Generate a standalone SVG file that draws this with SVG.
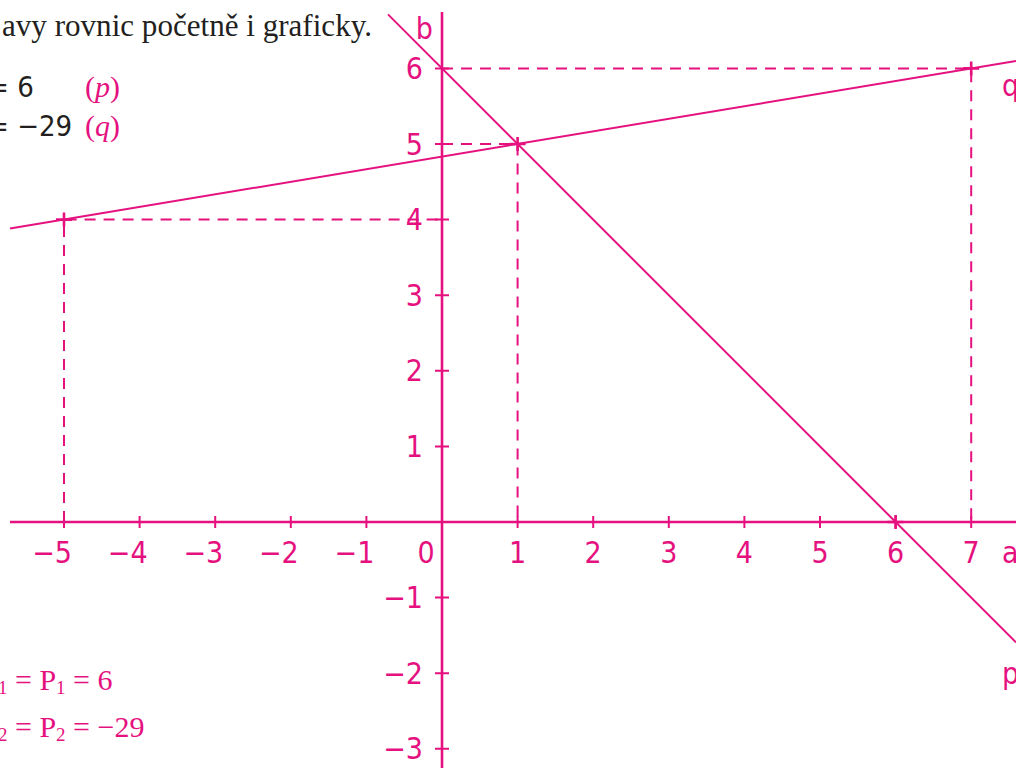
<svg xmlns="http://www.w3.org/2000/svg" width="1016" height="768" viewBox="0 0 1016 768">
<style>
.ax{stroke:#e5117f;stroke-width:2.6;fill:none}
.ln{stroke:#e5117f;stroke-width:2;fill:none}
.ds{stroke:#e5117f;stroke-width:2;fill:none;stroke-dasharray:11 8}
.tk{stroke:#e5117f;stroke-width:2;fill:none}
.cr{stroke:#e5117f;stroke-width:2.6;fill:none}
.lb{font-family:"Liberation Sans Narrow","DejaVu Sans Condensed","Liberation Sans",sans-serif;font-stretch:condensed;font-size:30px;fill:#e5117f}
.tx{font-family:"Liberation Sans Narrow","DejaVu Sans Condensed","Liberation Sans",sans-serif;font-stretch:condensed;font-size:29px;fill:#231f20}
.sr{font-family:"Liberation Serif","Times New Roman",serif;font-size:31px;fill:#231f20}
.sm{font-family:"Liberation Serif","Times New Roman",serif;font-size:30px;fill:#e5117f}
</style>
<rect width="1016" height="768" fill="#ffffff"/>
<g id="header">
<text class="sr" x="2" y="36" textLength="370" lengthAdjust="spacingAndGlyphs">avy rovnic početně i graficky.</text>
<text class="tx" x="-13" y="97">= 6</text>
<text class="sm" x="85" y="97">(<tspan font-style="italic">p</tspan>)</text>
<text class="tx" x="-13" y="136">= −29</text>
<text class="sm" x="85" y="136">(<tspan font-style="italic">q</tspan>)</text>
</g>
<g id="results">
<text class="sm" x="-2" y="690"><tspan font-size="19" dy="4">1</tspan><tspan dy="-4"> = P</tspan><tspan font-size="19" dy="4">1</tspan><tspan dy="-4"> = 6</tspan></text>
<text class="sm" x="-2" y="737"><tspan font-size="19" dy="4">2</tspan><tspan dy="-4"> = P</tspan><tspan font-size="19" dy="4">2</tspan><tspan dy="-4"> = −29</tspan></text>
</g>
<g id="axes">
<line class="ax" x1="10" y1="522" x2="1016" y2="522"/>
<line class="ax" x1="442" y1="12" x2="442" y2="768"/>
<g id="xticks">
<path class="tk" d="M64 516v12M139.6 516v12M215.2 516v12M290.8 516v12M366.4 516v12M517.6 516v12M593.2 516v12M668.8 516v12M744.4 516v12M820 516v12M895.6 516v12M971.2 516v12"/>
</g>
<g id="yticks">
<path class="tk" d="M435 446.4h14M435 370.8h14M435 295.2h14M435 219.6h14M435 144h14M435 68.4h14M435 597.6h14M435 673.2h14M435 748.8h14"/>
</g>
<g id="xlabels" class="lb">
<text x="72" y="563" text-anchor="end">−5</text>
<text x="147.6" y="563" text-anchor="end">−4</text>
<text x="223.2" y="563" text-anchor="end">−3</text>
<text x="298.8" y="563" text-anchor="end">−2</text>
<text x="374.4" y="563" text-anchor="end">−1</text>
<text x="426" y="563" text-anchor="middle">0</text>
<text x="517.6" y="563" text-anchor="middle">1</text>
<text x="593.2" y="563" text-anchor="middle">2</text>
<text x="668.8" y="563" text-anchor="middle">3</text>
<text x="744.4" y="563" text-anchor="middle">4</text>
<text x="820" y="563" text-anchor="middle">5</text>
<text x="895.6" y="563" text-anchor="middle">6</text>
<text x="971.2" y="563" text-anchor="middle">7</text>
<text x="1002" y="563">a</text>
</g>
<g id="ylabels" class="lb" text-anchor="end">
<text x="423" y="457">1</text>
<text x="423" y="381">2</text>
<text x="423" y="306">3</text>
<text x="423" y="230">4</text>
<text x="423" y="155">5</text>
<text x="423" y="79">6</text>
<text x="423" y="608">−1</text>
<text x="423" y="684">−2</text>
<text x="423" y="759">−3</text>
<text x="433" y="39">b</text>
</g>
</g>
<g id="connectors">
<path class="ds" d="M64 522V219.6H442"/>
<path class="ds" d="M442 144H517.6V522"/>
<path class="ds" d="M442 68.4H971.2V522"/>
<line id="line-p" class="ln" x1="388" y1="14.4" x2="1016" y2="642.4"/>
<line id="line-q" class="ln" x1="10" y1="228.6" x2="1016" y2="60.9"/>
<path class="cr" d="M56 219.6h16M64 212.6v14M509.6 144h16M517.6 137v14M963.2 68.4h16M971.2 61.4v14M887.6 522h16M895.6 515v14"/>
</g>
<g id="line-labels" class="lb">
<text x="1002" y="96">q</text>
<text x="1002" y="684">p</text>
</g>
</svg>
